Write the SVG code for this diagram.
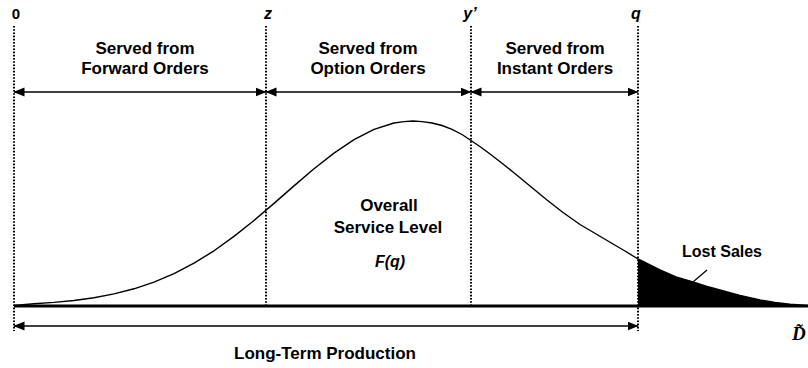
<svg xmlns="http://www.w3.org/2000/svg" width="808" height="368" viewBox="0 0 808 368">
<style>
.lbl{font-family:"Liberation Sans",Arial,sans-serif;font-weight:bold;font-size:17px;fill:#000;text-anchor:middle}
.var{font-family:"Liberation Sans",Arial,sans-serif;font-weight:bold;font-style:italic;font-size:16px;fill:#000;text-anchor:middle}
.dot{stroke:#000;stroke-width:2;stroke-dasharray:1.6 1.6;fill:none}
.arr{stroke:#000;stroke-width:1.4;fill:none;marker-start:url(#ah);marker-end:url(#ah)}
.crv{stroke:#000;stroke-width:1.4;fill:none;stroke-linejoin:round}
</style>
<defs>
<marker id="ah" markerWidth="11" markerHeight="10" refX="10.5" refY="5" orient="auto-start-reverse" markerUnits="userSpaceOnUse">
<path d="M0,0.5 L11,5 L0,9.5 Z" fill="#000"/>
</marker>
</defs>
<rect width="808" height="368" fill="#fff"/>
<g id="lost-sales">
<path d="M638,259 L660,270 L676,277 L693,282 L707,286.5 L720,290 L740,295.5 L760,300 L775,302.5 L790,304.3 L808,305.5 L808,306 L638,306 Z" fill="#000"/>
<line x1="707" y1="270" x2="693" y2="282" stroke="#000" stroke-width="1.2"/>
<text class="lbl" x="722" y="257" style="font-size:16px">Lost Sales</text>
</g>
<g id="curve">
<path class="crv" d="M14,305.5 L34,303.7 L54,302.4 L74,300.5 L94,297.7 L114,293.9 L134,288.8 L154,282.1 L174,273.6 L194,263.2 L214,250.8 L234,236.4 L254,220.5 L274,203.4 L294,185.9 L314,168.8 L334,153.1 L354,139.6 L374,129.4 L394,123 L404,121.6 L413,121 L422,121.6 L432,123 L442,125.5 L452,129.4 L462,134.5 L471,140.5 L482,148 L492,155.5 L503,164 L513,172 L530,186 L547,200 L563,212.5 L580,224.5 L597,234.5 L613,244 L625,251 L638,259 L660,270 L676,277 L693,282 L707,286.5 L720,290 L740,295.5 L760,300 L775,302.5 L790,304.3 L808,305.5"/>
</g>
<g id="axis">
<line x1="14" y1="306" x2="808" y2="306" stroke="#000" stroke-width="3"/>
<text x="792" y="340" style="font-family:'Liberation Serif','Times New Roman',serif;font-weight:bold;font-style:italic;font-size:19px">D̃</text>
</g>
<g id="markers">
<line class="dot" x1="14" y1="26" x2="14" y2="331"/>
<line class="dot" x1="266" y1="26" x2="266" y2="306"/>
<line class="dot" x1="471" y1="26" x2="471" y2="306"/>
<line class="dot" x1="638" y1="26" x2="638" y2="331"/>
<text class="lbl" x="16" y="19" style="font-size:15px">0</text>
<text class="var" x="268" y="19">z</text>
<text class="var" x="470" y="19">y’</text>
<text class="var" x="636" y="19">q</text>
</g>
<g id="connectors">
<line class="arr" x1="14" y1="92" x2="266" y2="92"/>
<line class="arr" x1="266" y1="92" x2="471" y2="92"/>
<line class="arr" x1="471" y1="92" x2="638" y2="92"/>
<line class="arr" x1="14" y1="326" x2="638" y2="326"/>
</g>
<g id="forward">
<text class="lbl" x="145" y="54">Served from</text>
<text class="lbl" x="145" y="74">Forward Orders</text>
</g>
<g id="option">
<text class="lbl" x="368" y="54">Served from</text>
<text class="lbl" x="368" y="74">Option Orders</text>
</g>
<g id="instant">
<text class="lbl" x="555" y="54">Served from</text>
<text class="lbl" x="555" y="74">Instant Orders</text>
</g>
<g id="service">
<text class="lbl" x="389" y="211">Overall</text>
<text class="lbl" x="388" y="233">Service Level</text>
<text class="var" x="390" y="267">F(q)</text>
</g>
<g id="production">
<text class="lbl" x="325" y="359">Long-Term Production</text>
</g>
</svg>
